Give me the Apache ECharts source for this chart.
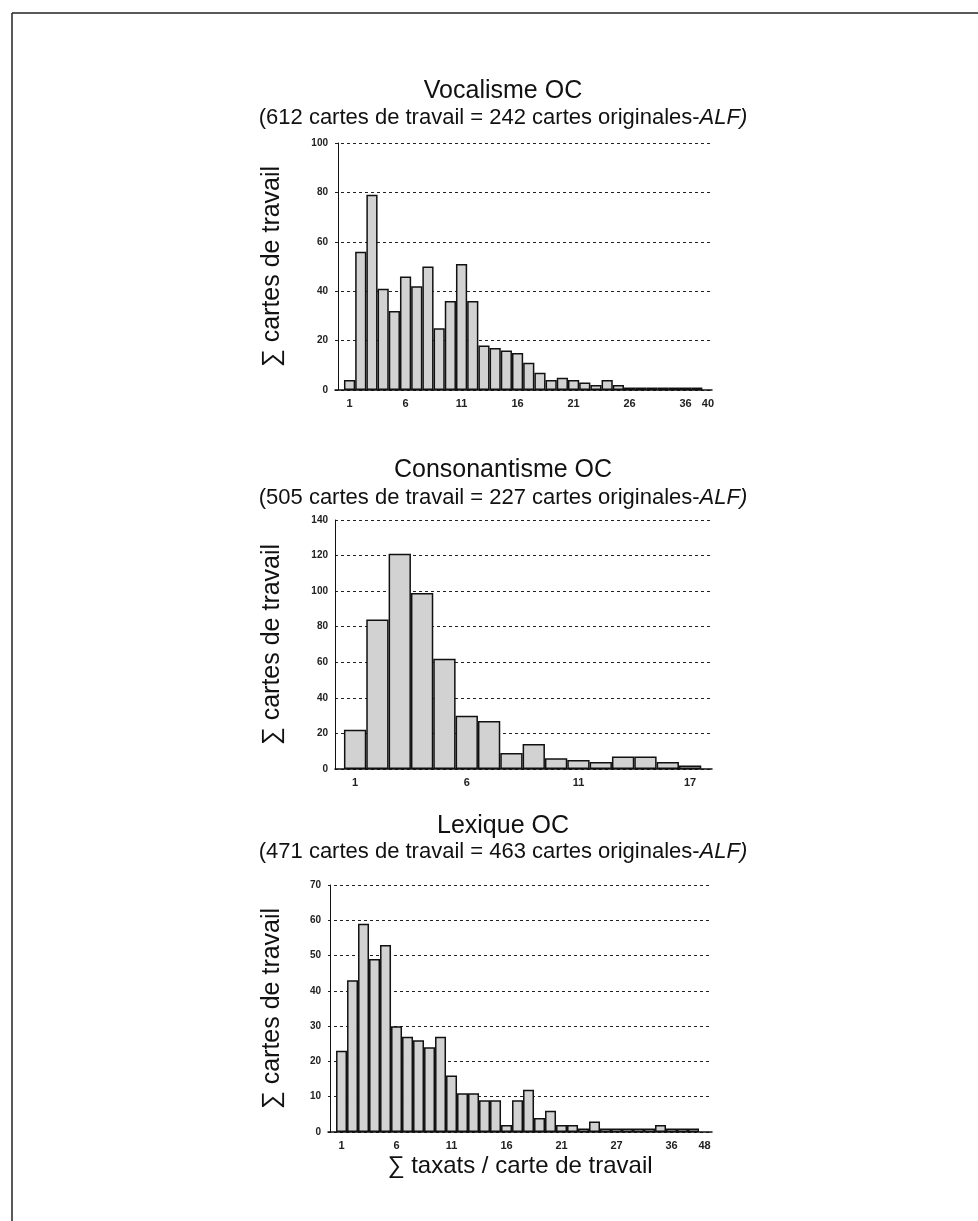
<!DOCTYPE html>
<html>
<head>
<meta charset="utf-8">
<script src="https://cdn.jsdelivr.net/npm/echarts@6.0.0/dist/echarts.min.js"></script>
<style>
html, body { margin: 0; padding: 0; background: #fff; }
#main { width: 978px; height: 1221px; }
</style>
</head>
<body>
<div id="main"></div>
<script>
// Vocalisme OC : nombre de cartes de travail par nombre de taxats
var vocalValues = [4, 56, 79, 41, 32, 46, 42, 50, 25, 36, 51, 36, 18, 17, 16, 15,
  11, 7, 4, 5, 4, 3, 2, 4, 2, 1, 1, 1, 1, 1, 1, 1];
var vocalTickPos = [1, 6, 11, 16, 21, 26, 31, 33];
var vocalTickLabels = ['1', '6', '11', '16', '21', '26', '36', '40'];

// Consonantisme OC
var consValues = [22, 84, 121, 99, 62, 30, 27, 9, 14, 6, 5, 4, 7, 7, 4, 2];
var consTickPos = [1, 6, 11, 16];
var consTickLabels = ['1', '6', '11', '17'];

// Lexique OC
var lexValues = [23, 43, 59, 49, 53, 30, 27, 26, 24, 27, 16, 11, 11, 9, 9, 2,
  9, 12, 4, 6, 2, 2, 1, 3, 1, 1, 1, 1, 1, 2, 1, 1, 1];
var lexTickPos = [1, 6, 11, 16, 21, 26, 31, 34];
var lexTickLabels = ['1', '6', '11', '16', '21', '27', '36', '48'];

var yName = '\u2211 cartes de travail';
var xName = '\u2211 taxats / carte de travail';

var font = 'Liberation Sans, Arial, sans-serif';

function toPoints(values) {
  return values.map(function (v, i) { return [i + 1, v]; });
}

function makeX(idx, min, max, pos, labels, name) {
  return {
    gridIndex: idx,
    type: 'value',
    min: min,
    max: max,
    name: name || '',
    nameLocation: 'middle',
    nameGap: 22,
    nameTextStyle: { fontFamily: font, fontSize: 24, color: '#111' },
    axisLine: { onZero: false, lineStyle: { color: '#111', width: 1.5 } },
    axisTick: { show: false },
    splitLine: { show: false },
    axisLabel: {
      customValues: pos,
      margin: 8,
      fontFamily: font,
      fontSize: 11,
      fontWeight: 'bold',
      color: '#222',
      formatter: function (v) {
        var k = pos.indexOf(v);
        return k >= 0 ? labels[k] : '';
      }
    }
  };
}

function makeY(idx, max, interval, gap) {
  return {
    gridIndex: idx,
    type: 'value',
    min: 0,
    max: max,
    interval: interval,
    name: yName,
    nameLocation: 'middle',
    nameRotate: 90,
    nameGap: gap,
    nameTextStyle: { fontFamily: font, fontSize: 25, color: '#111' },
    axisLine: { show: true, lineStyle: { color: '#111', width: 1 } },
    axisTick: { show: false },
    axisLabel: { margin: 7, fontFamily: font, fontSize: 10, fontWeight: 'bold', color: '#222' },
    splitLine: { lineStyle: { color: '#222', width: 1, type: [3, 3] } }
  };
}

function makeBars(idx, values) {
  return {
    type: 'bar',
    xAxisIndex: idx,
    yAxisIndex: idx,
    data: toPoints(values),
    barCategoryGap: '0%',
    itemStyle: { color: '#d2d2d2', borderColor: '#111', borderWidth: 1.5 },
    silent: true
  };
}

function titleAt(text, top, size) {
  return {
    text: text,
    left: 503,
    top: top,
    padding: 0,
    textAlign: 'center',
    textStyle: {
      fontFamily: font, fontSize: size, fontWeight: 'normal', color: '#111',
      rich: { i: { fontFamily: font, fontSize: size, fontStyle: 'italic', color: '#111' } }
    }
  };
}

var chart = echarts.init(document.getElementById('main'));
var option = {
  backgroundColor: '#fff',
  animation: false,
  title: [
    titleAt('Vocalisme OC', 79, 25),
    titleAt('(612 cartes de travail = 242 cartes originales-{i|ALF)}', 107, 22),
    titleAt('Consonantisme OC', 458, 25),
    titleAt('(505 cartes de travail = 227 cartes originales-{i|ALF)}', 487, 22),
    titleAt('Lexique OC', 814, 25),
    titleAt('(471 cartes de travail = 463 cartes originales-{i|ALF)}', 841, 22)
  ],
  grid: [
    { left: 335, top: 143, width: 377, height: 247 },
    { left: 335, top: 520, width: 377, height: 249 },
    { left: 328, top: 885, width: 384, height: 247 }
  ],
  xAxis: [
    makeX(0, -0.3, 33.36, vocalTickPos, vocalTickLabels),
    makeX(1, 0.1, 16.98, consTickPos, consTickLabels),
    makeX(2, -0.23, 34.68, lexTickPos, lexTickLabels, xName)
  ],
  yAxis: [
    makeY(0, 100, 20, 50),
    makeY(1, 140, 20, 50),
    makeY(2, 70, 10, 43)
  ],
  series: [
    makeBars(0, vocalValues),
    makeBars(1, consValues),
    makeBars(2, lexValues)
  ],
  graphic: [
    { type: 'line', shape: { x1: 12, y1: 13, x2: 978, y2: 13 }, style: { stroke: '#222', lineWidth: 1.5 } },
    { type: 'line', shape: { x1: 12, y1: 13, x2: 12, y2: 1221 }, style: { stroke: '#222', lineWidth: 1.5 } }
  ]
};
chart.setOption(option);
</script>
</body>
</html>
